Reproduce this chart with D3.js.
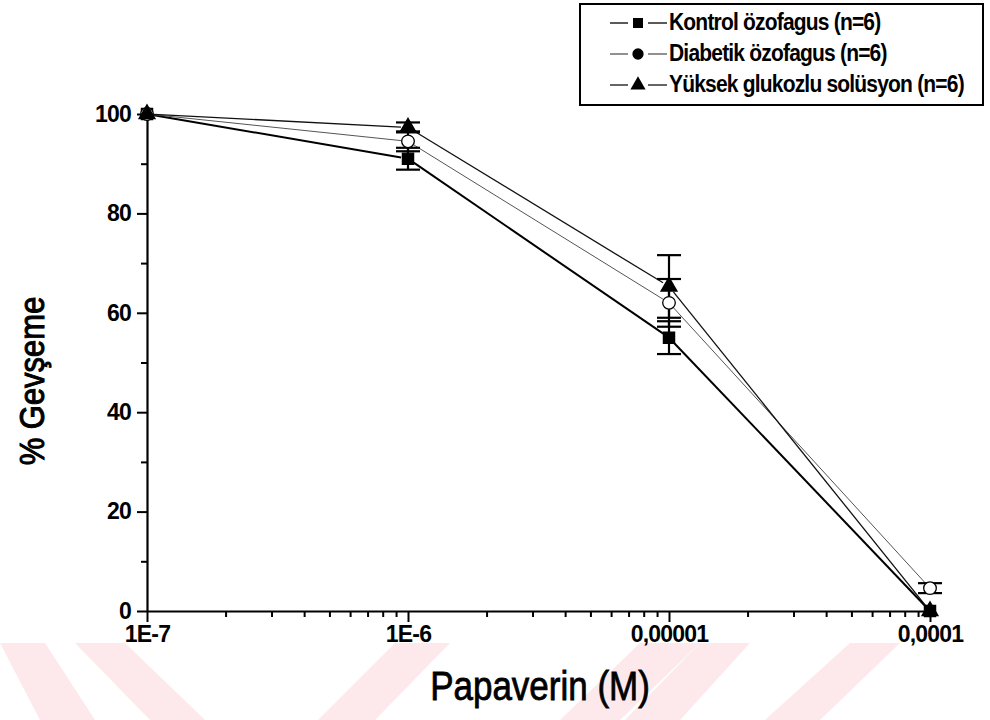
<!DOCTYPE html>
<html><head><meta charset="utf-8">
<script src="https://cdn.jsdelivr.net/npm/d3@7"></script>
<style>
html,body{margin:0;padding:0;background:#fff;}
svg{display:block;}
text{font-family:"Liberation Sans",Arial,sans-serif;fill:#000;}
</style></head>
<body>
<svg id="chart" width="990" height="720"></svg>
<script>
// ---- data ----
const concentrations = [1e-7, 1e-6, 1e-5, 1e-4];
const xTickLabels = ["1E-7", "1E-6", "0,00001", "0,0001"];
const yTicks = [0, 20, 40, 60, 80, 100];
const yMinorTicks = [10, 30, 50, 70, 90];
const seriesNames = ["Kontrol özofagus (n=6)", "Diabetik özofagus (n=6)", "Yüksek glukozlu solüsyon (n=6)"];
const kontrolValues = [100, 91, 55, 0];
const kontrolErrors = [0, 2.2, 3.3, 0];
const diabetikValues = [100, 94.5, 62, 4.6];
const diabetikErrors = [0, 2, 4.8, 1];
const yuksekValues = [100, 97.3, 65.3, 0];
const yuksekErrors = [0, 1, 6.3, 0];

const series = [
  {name: seriesNames[0], values: kontrolValues, errors: kontrolErrors, symbol: d3.symbolSquare, fill: "#000", legendFill: "#000", lineColor: "#000", lineWidth: 2},
  {name: seriesNames[1], values: diabetikValues, errors: diabetikErrors, symbol: d3.symbolCircle, fill: "#fff", legendFill: "#000", lineColor: "#555", lineWidth: 1},
  {name: seriesNames[2], values: yuksekValues, errors: yuksekErrors, symbol: d3.symbolTriangle, fill: "#000", legendFill: "#000", lineColor: "#111", lineWidth: 1.3}
];

const svg = d3.select("#chart");

// faint watermark stripes at the bottom
const wm = svg.append("g").attr("fill", "#fde9ec");
[
  "M0,643 L45,643 L95,720 L40,720 Z",
  "M75,643 L125,643 L205,720 L150,720 Z",
  "M395,643 L450,643 L375,720 L318,720 Z",
  "M640,643 L700,643 L620,720 L560,720 Z",
  "M700,643 L750,643 L680,720 L625,720 Z",
  "M850,643 L900,643 L820,720 L765,720 Z"
].forEach(p => wm.append("path").attr("d", p));

const x = d3.scaleLog().domain([1e-7, 1e-4]).range([147, 930]);
const y = d3.scaleLinear().domain([0, 100]).range([611, 114]);

const tickFont = sel => sel.attr("font-size", 23).attr("font-weight", "bold")
  .attr("letter-spacing", "-0.8px").attr("font-family", "Liberation Sans, Arial, sans-serif");

// Y axis
const yAxis = svg.append("g").attr("transform", `translate(${x(1e-7)},0)`)
  .call(d3.axisLeft(y).tickValues(yTicks).tickSize(10).tickSizeOuter(0).tickPadding(6).tickFormat(d3.format("d")));
yAxis.select(".domain").attr("stroke-width", 2.2);
yAxis.selectAll(".tick line").attr("stroke-width", 2);
yAxis.selectAll(".tick text").call(tickFont);
const yMinor = svg.append("g").attr("transform", `translate(${x(1e-7)},0)`)
  .call(d3.axisLeft(y).tickValues(yMinorTicks).tickSize(6).tickSizeOuter(0).tickFormat(""));
yMinor.select(".domain").remove();
yMinor.selectAll(".tick line").attr("stroke-width", 2);

// X axis
const xAxis = svg.append("g").attr("transform", `translate(0,${y(0)})`)
  .call(d3.axisBottom(x).tickValues(concentrations).tickSize(11).tickSizeOuter(0).tickPadding(4)
    .tickFormat((d, i) => xTickLabels[i]));
xAxis.select(".domain").attr("stroke-width", 2.2);
xAxis.selectAll(".tick line").attr("stroke-width", 2);
xAxis.selectAll(".tick text").call(tickFont);
const minorX = [];
for (let i = 0; i < 3; i++) for (let m = 2; m <= 9; m++) minorX.push(m * concentrations[i]);
const xMinor = svg.append("g").attr("transform", `translate(0,${y(0)})`)
  .call(d3.axisBottom(x).tickValues(minorX).tickSize(6).tickSizeOuter(0).tickFormat(""));
xMinor.select(".domain").remove();
xMinor.selectAll(".tick line").attr("stroke-width", 2);

// lines (trimmed near the markers)
const trim = 7;
series.forEach(s => {
  const g = svg.append("g");
  for (let i = 0; i < concentrations.length - 1; i++) {
    const x1 = x(concentrations[i]), y1 = y(s.values[i]);
    const x2 = x(concentrations[i + 1]), y2 = y(s.values[i + 1]);
    const len = Math.hypot(x2 - x1, y2 - y1);
    const ux = (x2 - x1) / len, uy = (y2 - y1) / len;
    g.append("line")
      .attr("x1", x1 + ux * trim).attr("y1", y1 + uy * trim)
      .attr("x2", x2 - ux * trim).attr("y2", y2 - uy * trim)
      .attr("stroke", s.lineColor).attr("stroke-width", s.lineWidth);
  }
});

// error bars
series.forEach(s => {
  const g = svg.append("g").attr("stroke", "#000").attr("stroke-width", 2.2);
  concentrations.forEach((c, i) => {
    const e = s.errors[i];
    if (!e) return;
    const cx = x(c);
    g.append("line").attr("x1", cx).attr("x2", cx).attr("y1", y(s.values[i] - e)).attr("y2", y(s.values[i] + e));
    [s.values[i] - e, s.values[i] + e].forEach(v => {
      g.append("line").attr("x1", cx - 12).attr("x2", cx + 12).attr("y1", y(v)).attr("y2", y(v));
    });
  });
});

// markers
series.forEach(s => {
  const sym = d3.symbol().type(s.symbol).size(s.symbol === d3.symbolTriangle ? 110 : 125);
  svg.append("g").selectAll("path").data(concentrations).join("path")
    .attr("transform", (c, i) => `translate(${x(c)},${y(s.values[i])})`)
    .attr("d", sym)
    .attr("fill", s.fill).attr("stroke", "#000").attr("stroke-width", 1.3);
});

// axis titles (slightly tall, heavy letterforms, as in the scanned original)
svg.append("text").attr("transform", "translate(540,700) scale(1,1.15)").attr("text-anchor", "middle")
  .attr("font-size", 35).attr("stroke", "#000").attr("stroke-width", 0.7).text("Papaverin (M)");
svg.append("text").attr("transform", "translate(44,381) rotate(-90) scale(1,1.15)").attr("text-anchor", "middle")
  .attr("font-size", 31).attr("stroke", "#000").attr("stroke-width", 0.9).text("% Gevşeme");

// legend
const lg = svg.append("g");
lg.append("rect").attr("x", 580).attr("y", 4).attr("width", 403).attr("height", 101)
  .attr("fill", "none").attr("stroke", "#000").attr("stroke-width", 2);
const rowY = d3.scalePoint().domain(seriesNames).range([23, 85]);
series.forEach(s => {
  const ry = rowY(s.name);
  lg.append("line").attr("x1", 610).attr("x2", 628).attr("y1", ry).attr("y2", ry).attr("stroke", s.lineColor).attr("stroke-width", 1.3);
  lg.append("line").attr("x1", 648).attr("x2", 667).attr("y1", ry).attr("y2", ry).attr("stroke", s.lineColor).attr("stroke-width", 1.3);
  lg.append("path").attr("transform", `translate(638,${ry})`)
    .attr("d", d3.symbol().type(s.symbol).size(100)).attr("fill", s.legendFill);
  lg.append("text").attr("transform", `translate(669,${ry + 7}) scale(1,1.15)`)
    .attr("font-size", 21).attr("font-weight", "bold").attr("letter-spacing", "-0.8px").text(s.name);
});
</script>
</body></html>
